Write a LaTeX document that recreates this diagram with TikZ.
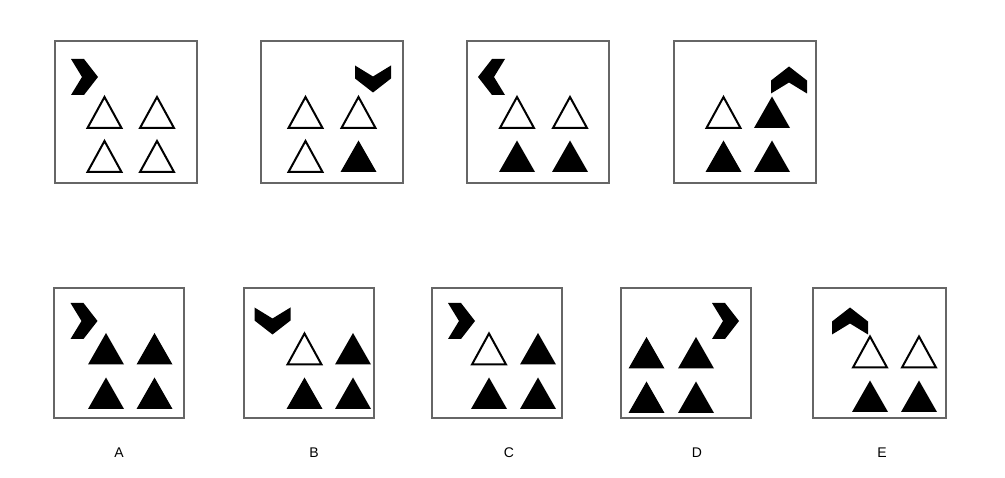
\documentclass[tikz,border=0pt]{standalone}
\usepackage{fontspec}
\setmainfont{Liberation Sans}
\begin{document}
\begin{tikzpicture}[x=1pt,y=-1pt,
  frame/.style={draw=black!60,line width=2pt},
  lbl/.style={font=\fontsize{14}{16}\selectfont},
  tw/.pic={\draw[line width=2pt,line join=miter] (-17,15.5)--(0,-15.5)--(17,15.5)--cycle;},
  tb/.pic={\fill (-18,15.5)--(0,-16)--(18,15.5)--cycle;},
  chev/.pic={\fill (-13.5,-18)--(-0.5,-18)--(13.5,0)--(-0.5,18)--(-13.5,18)--(-2.5,0)--cycle;}]
\useasboundingbox (0,0) rectangle (1005,478);
% top boxes
\node[frame,minimum width=142pt,minimum height=142pt,inner sep=0] (q1) at (125.5,112.5) {};
\node[frame,minimum width=142pt,minimum height=142pt,inner sep=0] (q2) at (331.5,112.5) {};
\node[frame,minimum width=142pt,minimum height=142pt,inner sep=0] (q3) at (538,112.5) {};
\node[frame,minimum width=142pt,minimum height=142pt,inner sep=0] (q4) at (745,112.5) {};
% box1
\pic at (84.5,77) {chev};
\pic at (104.5,112.5) {tw};\pic at (157,112.5) {tw};
\pic at (104.5,156.5) {tw};\pic at (157,156.5) {tw};
% box2
\pic[rotate=-90] at (373,79) {chev};
\pic at (305.5,112.5) {tw};\pic at (358.5,112.5) {tw};
\pic at (305.5,156.5) {tw};\pic at (358.5,156.5) {tb};
% box3
\pic[rotate=180] at (491.5,77) {chev};
\pic at (517,112.5) {tw};\pic at (570,112.5) {tw};
\pic at (517,156.5) {tb};\pic at (570,156.5) {tb};
% box4
\pic[rotate=90] at (789,80) {chev};
\pic at (723.5,112.5) {tw};\pic at (772,112.5) {tb};
\pic at (723.5,156.5) {tb};\pic at (772,156.5) {tb};
% bottom boxes
\node[frame,minimum width=130pt,minimum height=130pt,inner sep=0] (a) at (119,353.5) {};
\node[frame,minimum width=130pt,minimum height=130pt,inner sep=0] (b) at (309,353.5) {};
\node[frame,minimum width=130pt,minimum height=130pt,inner sep=0] (c) at (497,353.5) {};
\node[frame,minimum width=130pt,minimum height=130pt,inner sep=0] (d) at (686,353.5) {};
\node[frame,minimum width=133pt,minimum height=130pt,inner sep=0] (e) at (879,353.5) {};
% A
\pic at (84,321) {chev};
\pic at (106,349) {tb};\pic at (154.5,349) {tb};
\pic at (106,393.5) {tb};\pic at (154.5,393.5) {tb};
% B
\pic[rotate=-90] at (272.5,321) {chev};
\pic at (304.5,349) {tw};\pic at (353,349) {tb};
\pic at (304.5,393.5) {tb};\pic at (353,393.5) {tb};
% C
\pic at (461.5,321) {chev};
\pic at (489,349) {tw};\pic at (538,349) {tb};
\pic at (489,393.5) {tb};\pic at (538,393.5) {tb};
% D
\pic at (725.5,321) {chev};
\pic at (646.5,353) {tb};\pic at (696,353) {tb};
\pic at (646.5,397.5) {tb};\pic at (696,397.5) {tb};
% E
\pic[rotate=90] at (850,321) {chev};
\pic at (870,352) {tw};\pic at (919,352) {tw};
\pic at (870,396.5) {tb};\pic at (919,396.5) {tb};
% labels
\node[lbl] (la) at (119,453) {A};
\node[lbl] (lb) at (314,453) {B};
\node[lbl] (lc) at (509,453) {C};
\node[lbl] (ld) at (697,453) {D};
\node[lbl] (le) at (882,453) {E};
\end{tikzpicture}
\end{document}
